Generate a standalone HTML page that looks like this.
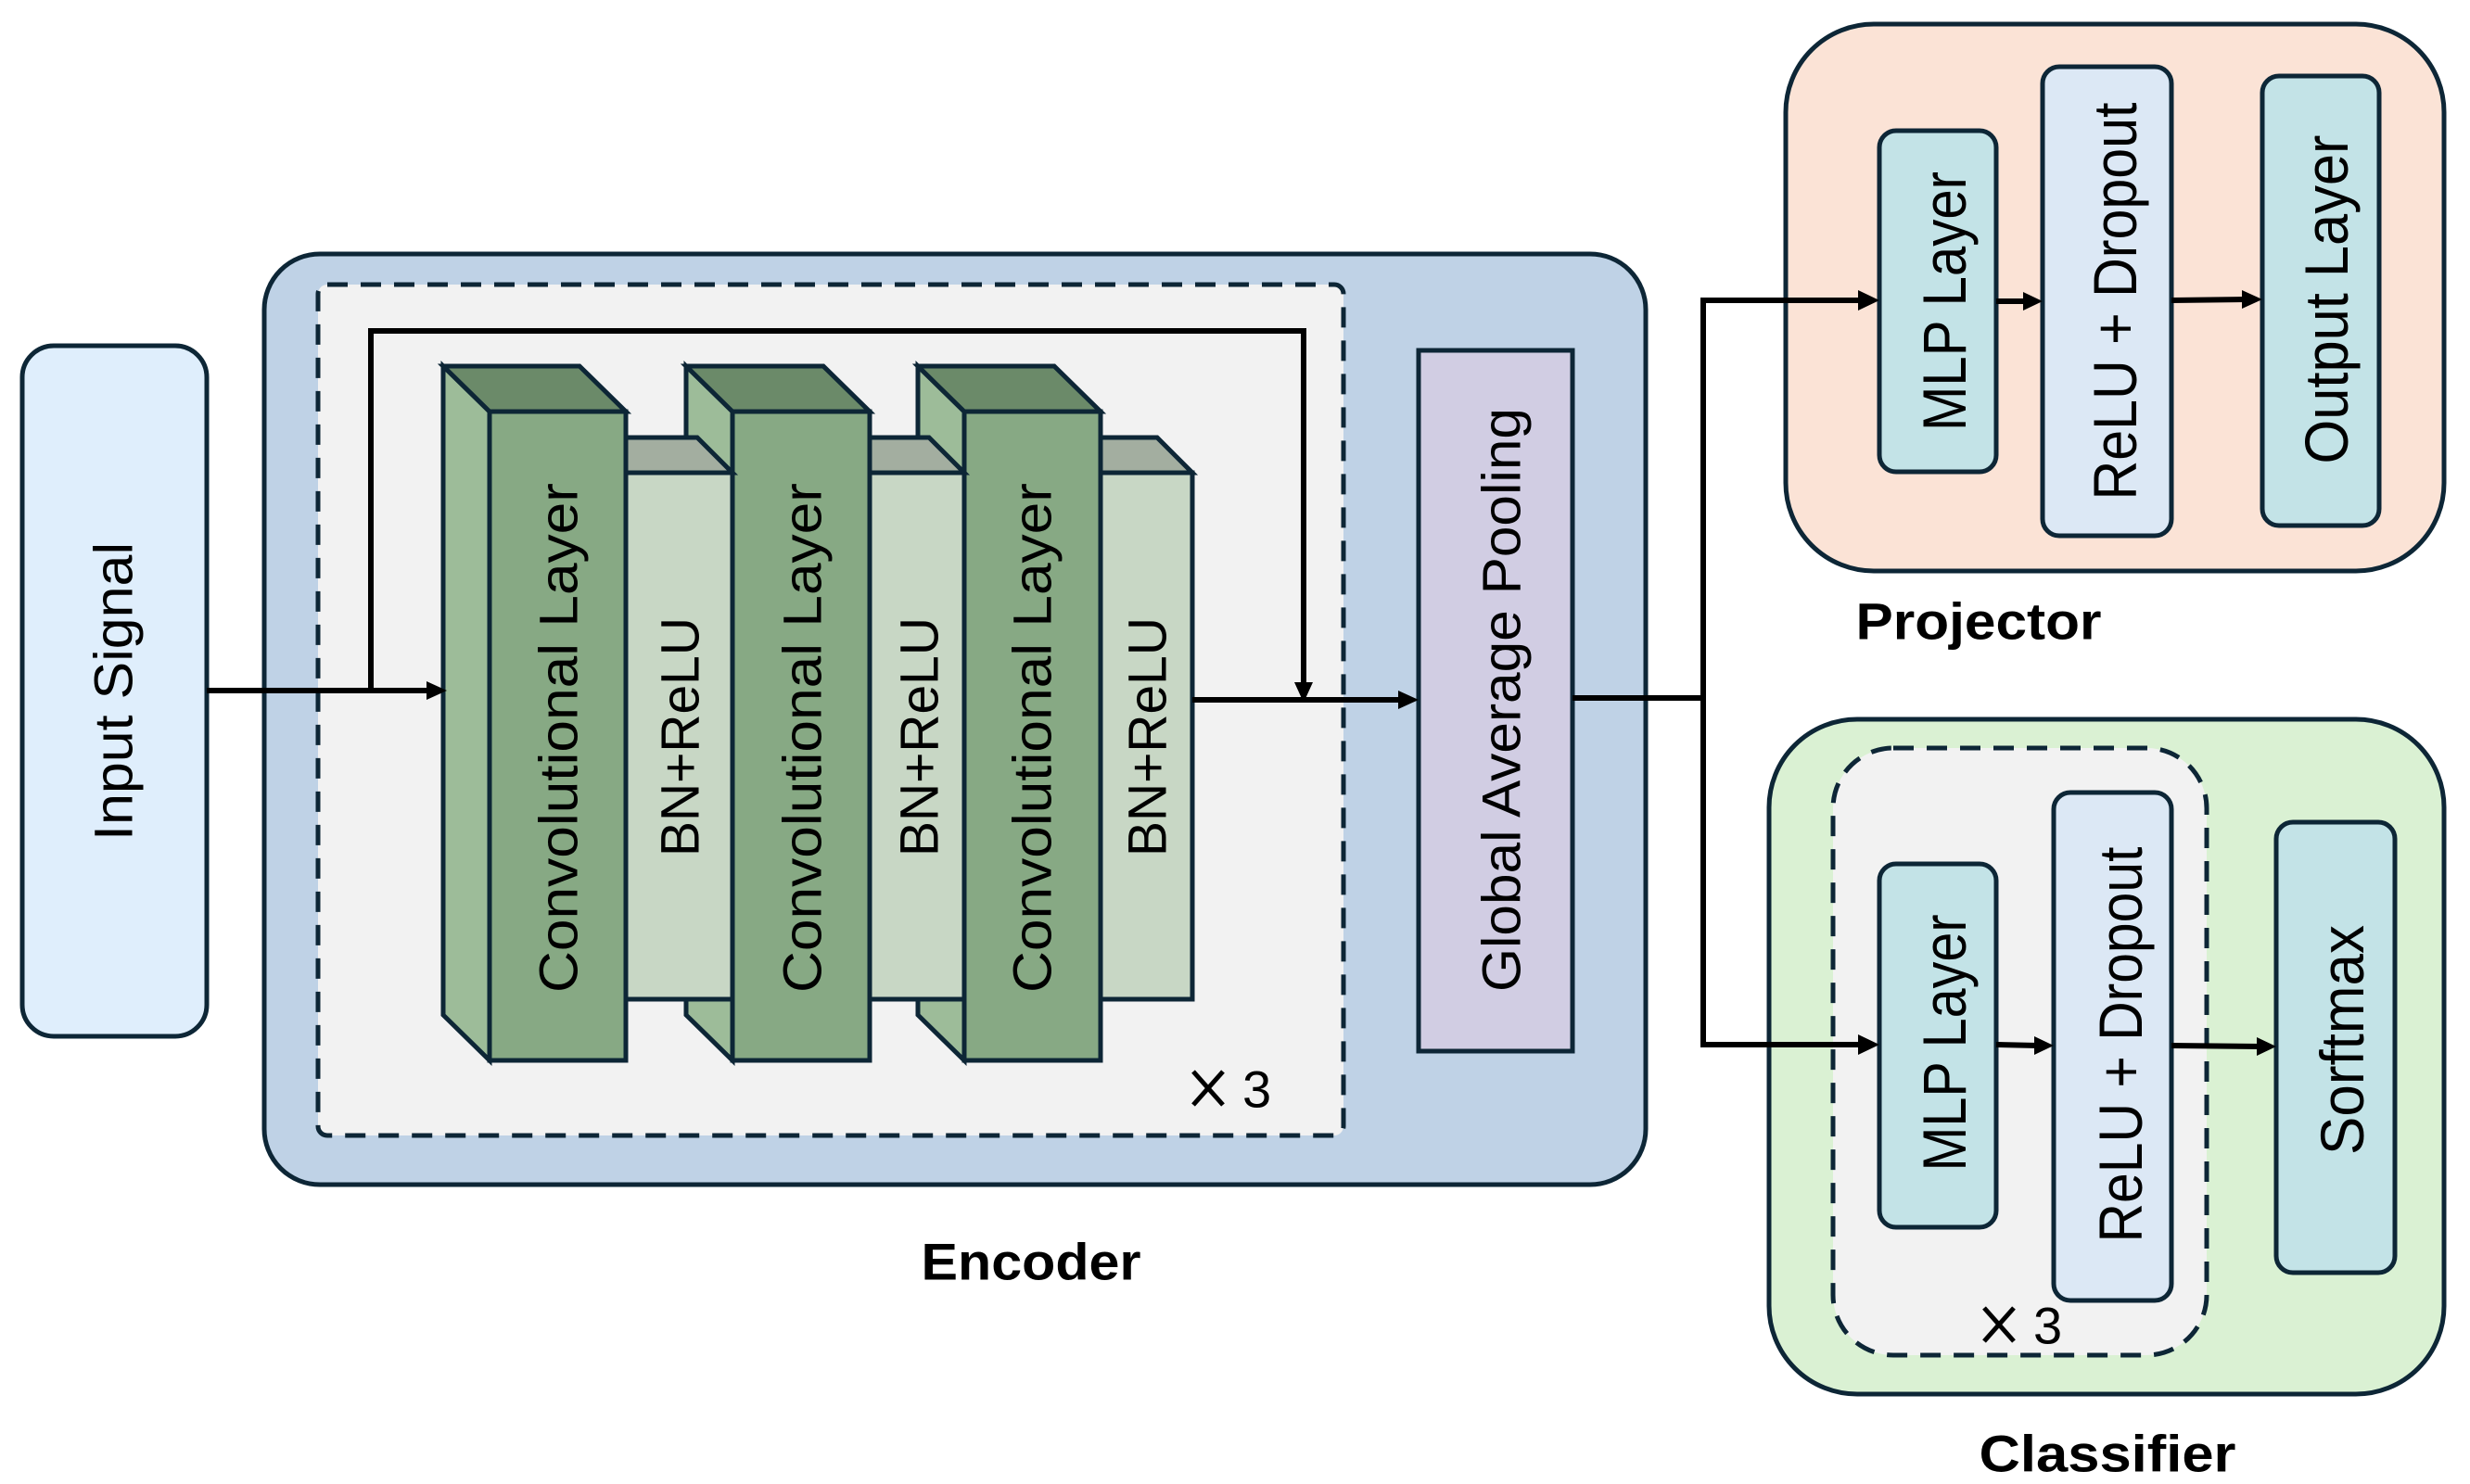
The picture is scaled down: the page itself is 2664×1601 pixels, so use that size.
<!DOCTYPE html>
<html><head><meta charset="utf-8"><style>
html,body{margin:0;padding:0;background:#fff}
svg{display:block}
text{font-family:"Liberation Sans",sans-serif;fill:#000}
</style></head><body>
<svg width="2664" height="1601" viewBox="0 0 2664 1601" xmlns="http://www.w3.org/2000/svg">
<g stroke="#0d2636" stroke-width="5">
<rect x="24" y="373" width="199" height="745" rx="34" fill="#dfeefc"/>
<rect x="285" y="274" width="1490" height="1004" rx="60" fill="#bfd2e6"/>
<rect x="343" y="307" width="1106" height="918" rx="10" fill="#f2f2f2" stroke-dasharray="22 14"/>
<rect x="1530" y="378" width="166" height="756" fill="#d1cde3"/>
<rect x="1926" y="26" width="710" height="590" rx="95" fill="#fbe3d6"/>
<rect x="2027" y="141" width="126" height="368" rx="18" fill="#c3e3e7"/>
<rect x="2203" y="72" width="139" height="506" rx="18" fill="#dce8f5"/>
<rect x="2440" y="82" width="126" height="485" rx="18" fill="#c3e3e7"/>
<rect x="1908" y="776" width="728" height="728" rx="95" fill="#daf1d3"/>
<rect x="1977" y="807" width="403" height="655" rx="65" fill="#f2f2f2" stroke-dasharray="22 14"/>
<rect x="2027" y="932" width="126" height="392" rx="18" fill="#c3e3e7"/>
<rect x="2215" y="855" width="127" height="548" rx="18" fill="#dce8f5"/>
<rect x="2455" y="887" width="128" height="486" rx="18" fill="#c3e3e7"/>
</g>
<g stroke="#0d2636" stroke-width="5" stroke-linejoin="miter">
<polygon points="1147,472 1248,472 1286,510 1185,510" fill="#a3aea0"/>
<rect x="1185" y="510" width="101" height="568" fill="#c8d7c5"/>
<polygon points="990,395 1040,444 1040,1144 990,1095" fill="#9dbc99"/>
<polygon points="990,395 1137,395 1187,444 1040,444" fill="#6b8a69"/>
<rect x="1040" y="444" width="147" height="700" fill="#87a984"/>
<polygon points="900,472 1002,472 1040,510 938,510" fill="#a3aea0"/>
<rect x="938" y="510" width="102" height="568" fill="#c8d7c5"/>
<polygon points="740,395 790,444 790,1144 740,1095" fill="#9dbc99"/>
<polygon points="740,395 888,395 938,444 790,444" fill="#6b8a69"/>
<rect x="790" y="444" width="148" height="700" fill="#87a984"/>
<polygon points="637,472 752,472 790,510 675,510" fill="#a3aea0"/>
<rect x="675" y="510" width="115" height="568" fill="#c8d7c5"/>
<polygon points="478,395 528,444 528,1144 478,1095" fill="#9dbc99"/>
<polygon points="478,395 625,395 675,444 528,444" fill="#6b8a69"/>
<rect x="528" y="444" width="147" height="700" fill="#87a984"/>
</g>
<g stroke="#000" stroke-width="6" fill="none">
<line x1="223" y1="745" x2="462" y2="745"/>
<polyline points="400,745 400,357 1406,357 1406,740"/>
<line x1="1286" y1="755" x2="1512" y2="755"/>
<line x1="1696" y1="753" x2="1837" y2="753"/>
<polyline points="2008,324 1837,324 1837,1127 2008,1127"/>
<line x1="2153" y1="325" x2="2186" y2="325"/>
<line x1="2342" y1="324" x2="2422" y2="323"/>
<line x1="2153" y1="1127" x2="2198" y2="1128"/>
<line x1="2342" y1="1128" x2="2438" y2="1129"/>
</g>
<g fill="#000">
<polygon points="482,745 460,735 460,755"/>
<polygon points="1406,758 1396,736 1416,736"/>
<polygon points="1530,755 1508,745 1508,765"/>
<polygon points="2027,324 2004,313 2004,335"/>
<polygon points="2203,325 2182,315 2182,335"/>
<polygon points="2440,323 2418,313 2418,333"/>
<polygon points="2027,1127 2004,1116 2004,1138"/>
<polygon points="2215,1128 2194,1118 2194,1138"/>
<polygon points="2455,1129 2434,1119 2434,1139"/>
</g>
<g font-size="58" text-anchor="middle" dominant-baseline="central">
<text transform="translate(123,746) rotate(-90)" textLength="322" lengthAdjust="spacingAndGlyphs">Input Signal</text>
<text transform="translate(603,796) rotate(-90)" textLength="550" lengthAdjust="spacingAndGlyphs">Convolutional Layer</text>
<text transform="translate(866,796) rotate(-90)" textLength="550" lengthAdjust="spacingAndGlyphs">Convolutional Layer</text>
<text transform="translate(1114,796) rotate(-90)" textLength="550" lengthAdjust="spacingAndGlyphs">Convolutional Layer</text>
<text transform="translate(734,795) rotate(-90)" textLength="258" lengthAdjust="spacingAndGlyphs">BN+ReLU</text>
<text transform="translate(992,795) rotate(-90)" textLength="258" lengthAdjust="spacingAndGlyphs">BN+ReLU</text>
<text transform="translate(1238,795) rotate(-90)" textLength="258" lengthAdjust="spacingAndGlyphs">BN+ReLU</text>
<text transform="translate(1620,755) rotate(-90)" textLength="630" lengthAdjust="spacingAndGlyphs">Global Average Pooling</text>
</g>
<g font-size="66" text-anchor="middle" dominant-baseline="central">
<text transform="translate(2097,325) rotate(-90)" textLength="280" lengthAdjust="spacingAndGlyphs">MLP Layer</text>
<text transform="translate(2281,325) rotate(-90)" textLength="429" lengthAdjust="spacingAndGlyphs">ReLU + Dropout</text>
<text transform="translate(2509,323) rotate(-90)" textLength="355" lengthAdjust="spacingAndGlyphs">Output Layer</text>
<text transform="translate(2097,1125) rotate(-90)" textLength="277" lengthAdjust="spacingAndGlyphs">MLP Layer</text>
<text transform="translate(2287,1127) rotate(-90)" textLength="427" lengthAdjust="spacingAndGlyphs">ReLU + Dropout</text>
<text transform="translate(2526,1122) rotate(-90)" textLength="248" lengthAdjust="spacingAndGlyphs">Sorftmax</text>
</g>
<g stroke="#000" stroke-width="5">
<line x1="1287" y1="1156" x2="1319" y2="1192"/><line x1="1319" y1="1156" x2="1287" y2="1192"/>
<line x1="2140" y1="1411" x2="2172" y2="1447"/><line x1="2172" y1="1411" x2="2140" y2="1447"/>
</g>
<g font-size="56" dominant-baseline="central">
<text x="1340" y="1175">3</text>
<text x="2193" y="1430">3</text>
</g>
<g font-size="56" font-weight="bold" text-anchor="middle" dominant-baseline="central">
<text x="1112" y="1361" textLength="237" lengthAdjust="spacingAndGlyphs">Encoder</text>
<text x="2134" y="670" textLength="265" lengthAdjust="spacingAndGlyphs">Projector</text>
<text x="2273" y="1568" textLength="277" lengthAdjust="spacingAndGlyphs">Classifier</text>
</g>
</svg>
</body></html>
